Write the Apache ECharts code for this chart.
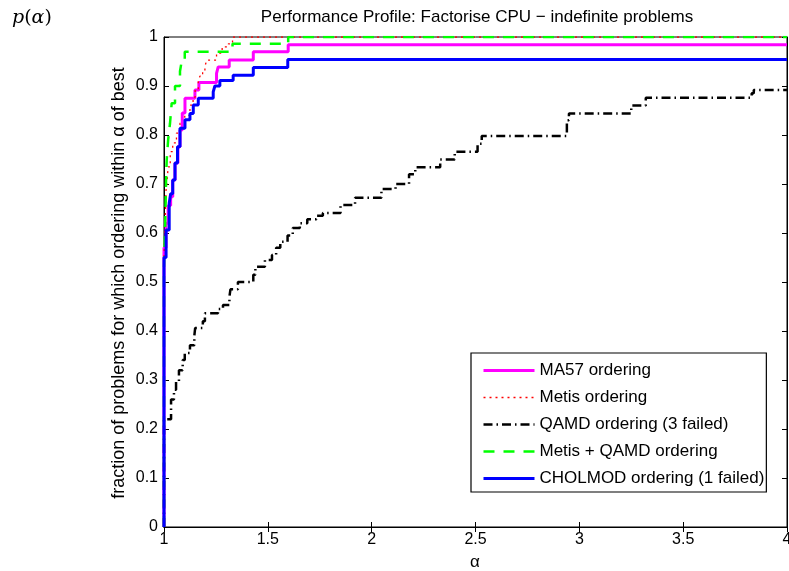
<!DOCTYPE html>
<html>
<head>
<meta charset="utf-8">
<script src="https://cdn.jsdelivr.net/npm/echarts@6/dist/echarts.min.js"></script>
<style>
  html, body { margin: 0; padding: 0; background: #fff; }
  #chart { width: 789px; height: 571px; }
</style>
</head>
<body>
<div id="chart"></div>
<script>
const xTickLabels = ['1', '1.5', '2', '2.5', '3', '3.5', '4'];
const yTickLabels = ['0', '0.1', '0.2', '0.3', '0.4', '0.5', '0.6', '0.7', '0.8', '0.9', '1'];

// performance profile steps: value holds from alpha[i] until alpha[i+1]
const ma57Alpha = [1, 1, 1.01, 1.02, 1.032, 1.042, 1.053, 1.067, 1.077, 1.088, 1.101, 1.149, 1.168, 1.253, 1.261, 1.314, 1.43, 1.598, 4];
const ma57Frac  = [0, 0.57, 0.62, 0.656, 0.674, 0.708, 0.743, 0.776, 0.81, 0.845, 0.875, 0.892, 0.907, 0.926, 0.939, 0.953, 0.970, 0.984, 0.984];

const metisAlpha = [1, 1, 1.005, 1.01, 1.015, 1.02, 1.03, 1.042, 1.06, 1.077, 1.10, 1.125, 1.14, 1.15, 1.165, 1.173, 1.186, 1.197, 1.206, 1.253, 1.28, 1.31, 1.33, 4];
const metisFrac  = [0, 0.55, 0.62, 0.688, 0.708, 0.735, 0.766, 0.784, 0.804, 0.824, 0.84, 0.861, 0.877, 0.892, 0.909, 0.92, 0.931, 0.94, 0.953, 0.967, 0.98, 0.986, 1.0, 1.0];

const qamdAlpha = [1, 1, 1.034, 1.048, 1.058, 1.072, 1.09, 1.10, 1.125, 1.146, 1.15, 1.187, 1.197, 1.26, 1.284, 1.315, 1.32, 1.356, 1.43, 1.44, 1.486, 1.52, 1.54, 1.56, 1.595, 1.62, 1.654, 1.69, 1.734, 1.765, 1.85, 1.92, 2.047, 2.115, 2.18, 2.21, 2.33, 2.40, 2.51, 2.53, 2.94, 2.95, 3.25, 3.32, 3.83, 3.84, 4];
const qamdFrac  = [0, 0.22, 0.26, 0.28, 0.297, 0.32, 0.341, 0.355, 0.371, 0.39, 0.406, 0.42, 0.436, 0.445, 0.453, 0.47, 0.485, 0.50, 0.515, 0.531, 0.545, 0.555, 0.57, 0.582, 0.595, 0.61, 0.62, 0.628, 0.635, 0.641, 0.657, 0.672, 0.69, 0.70, 0.72, 0.734, 0.75, 0.766, 0.782, 0.798, 0.83, 0.844, 0.86, 0.876, 0.885, 0.892, 0.892];

const metisQamdAlpha = [1, 1, 1.005, 1.01, 1.013, 1.02, 1.029, 1.037, 1.053, 1.077, 1.085, 1.10, 1.33, 1.598, 4];
const metisQamdFrac  = [0, 0.53, 0.6, 0.708, 0.749, 0.79, 0.824, 0.865, 0.90, 0.93, 0.95, 0.97, 0.986, 1.0, 1.0];

const cholmodAlpha = [1, 1, 1.01, 1.025, 1.032, 1.042, 1.053, 1.065, 1.077, 1.101, 1.125, 1.141, 1.165, 1.237, 1.245, 1.269, 1.333, 1.43, 1.596, 4];
const cholmodFrac  = [0, 0.55, 0.606, 0.661, 0.68, 0.708, 0.743, 0.776, 0.814, 0.831, 0.844, 0.861, 0.875, 0.888, 0.9, 0.911, 0.922, 0.938, 0.954, 0.954];

const pairs = (xs, ys) => xs.map((x, i) => [x, ys[i]]);
const font = 'Liberation Sans, Arial, Helvetica, sans-serif';

const myChart = echarts.init(document.getElementById('chart'));

const xAxisBase = {
    type: 'value', min: 1, max: 4, interval: 0.5,
    axisLine: { show: true, lineStyle: { color: '#000', width: 1 } },
    axisTick: { show: true, inside: true, length: 5, lineStyle: { color: '#000' } },
    splitLine: { show: false }
};
const yAxisBase = {
    type: 'value', min: 0, max: 1, interval: 0.1,
    axisLine: { show: true, lineStyle: { color: '#000', width: 1 } },
    axisTick: { show: true, inside: true, length: 5, lineStyle: { color: '#000' } },
    splitLine: { show: false }
};

const styles = {
    'MA57 ordering': { color: '#ff00ff', width: 3, type: 'solid' },
    'Metis ordering': { color: '#ff0000', width: 1.3, type: [2, 4] },
    'QAMD ordering (3 failed)': { color: '#000000', width: 2.5, type: [9, 4, 1.5, 4] },
    'Metis + QAMD ordering': { color: '#00ff00', width: 2.5, type: [11, 9] },
    'CHOLMOD ordering (1 failed)': { color: '#0000ff', width: 3, type: 'solid' }
};

const line = (name, data, z) => ({
    name, type: 'line', data, step: 'end', symbol: 'none', z,
    lineStyle: styles[name],
    itemStyle: { color: styles[name].color },
    clip: true, animation: false
});

const option = {
    backgroundColor: '#fff',
    animation: false,
    grid: { left: 164, right: 2, top: 37, bottom: 44, show: true, borderColor: '#000', borderWidth: 1,
        outerBoundsMode: 'none', containLabel: false },
    xAxis: [
        Object.assign({}, xAxisBase, {
            position: 'bottom',
            axisLabel: { color: '#000', fontFamily: font, fontSize: 16, margin: 5,
                formatter: (v, i) => xTickLabels[i] }
        }),
        Object.assign({}, xAxisBase, { position: 'top', axisLabel: { show: false } })
    ],
    yAxis: [
        Object.assign({}, yAxisBase, {
            position: 'left',
            axisLabel: { color: '#000', fontFamily: font, fontSize: 16, margin: 6,
                formatter: (v, i) => yTickLabels[i] }
        }),
        Object.assign({}, yAxisBase, { position: 'right', axisLabel: { show: false } })
    ],
    legend: {
        orient: 'vertical', left: 471, top: 353,
        padding: [9, 2, 5, 11],
        itemWidth: 51, itemHeight: 14, itemGap: 10,
        backgroundColor: '#fff', borderColor: '#000', borderWidth: 1.2,
        itemStyle: { opacity: 0 },
        textStyle: { color: '#000', fontFamily: font, fontSize: 17 },
        data: Object.keys(styles).map(name => ({ name, lineStyle: {
            color: styles[name].color, width: styles[name].width, type: styles[name].type } }))
    },
    graphic: [
        { type: 'text', x: 477, y: 17, style: { text: 'Performance Profile: Factorise CPU \u2212 indefinite problems',
            font: '17px ' + font, fill: '#000', align: 'center', verticalAlign: 'middle' } },
        { type: 'text', x: 119, y: 283, rotation: Math.PI / 2, style: { text: 'fraction of problems for which ordering within \u03b1 of best',
            font: '18px ' + font, fill: '#000', align: 'center', verticalAlign: 'middle' } },
        { type: 'text', x: 475, y: 562, style: { text: '\u03b1', font: '17px ' + font, fill: '#000', align: 'center', verticalAlign: 'middle' } },
        { type: 'text', x: 12, y: 18, style: {
            text: '{i|p}{u|(}{i|\u03b1}{u|)}', verticalAlign: 'middle', fill: '#000',
            rich: {
                i: { fontFamily: 'DejaVu Serif, Liberation Serif, serif', fontStyle: 'italic', fontSize: 19 },
                u: { fontFamily: 'DejaVu Serif, Liberation Serif, serif', fontSize: 19 }
            } } }
    ],
    series: [
        line('MA57 ordering', pairs(ma57Alpha, ma57Frac), 2),
        line('Metis ordering', pairs(metisAlpha, metisFrac), 3),
        line('QAMD ordering (3 failed)', pairs(qamdAlpha, qamdFrac), 4),
        line('Metis + QAMD ordering', pairs(metisQamdAlpha, metisQamdFrac), 5),
        line('CHOLMOD ordering (1 failed)', pairs(cholmodAlpha, cholmodFrac), 6)
    ]
};

myChart.setOption(option);
</script>
</body>
</html>
